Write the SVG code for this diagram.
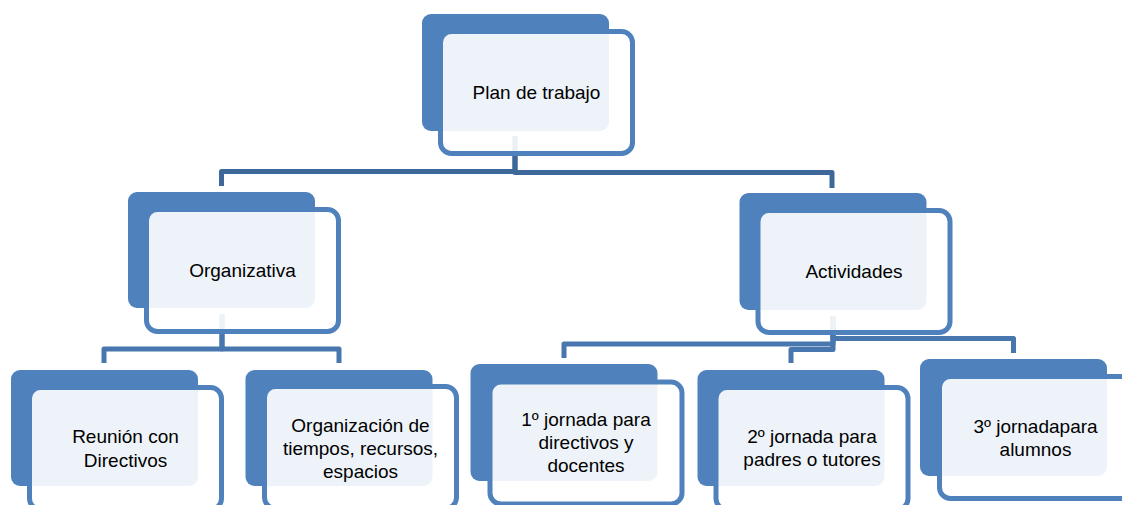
<svg xmlns="http://www.w3.org/2000/svg" width="1122" height="505" viewBox="0 0 1122 505">
<style>
.back{fill:#4F81BD;}
.front{fill:#FFFFFF;fill-opacity:0.9;stroke:#4F81BD;stroke-width:5;}
.c1{fill:none;stroke:#3E6899;stroke-width:5;stroke-linejoin:round;}
.c2{fill:none;stroke:#4877B0;stroke-width:5;stroke-linejoin:round;}
text{font-family:"Liberation Sans",Arial,sans-serif;font-size:19px;fill:#000;text-anchor:middle;}
</style>
<rect width="1122" height="505" fill="#FFFFFF"/>
<g id="connectors">
<path class="c1" d="M515 136 V171.5 H221.5 V186"/>
<path class="c1" d="M515 136 V172.5 H832 V188"/>
<path class="c2" d="M222 314 V349 H104 V363"/>
<path class="c2" d="M222 314 V349 H339 V363"/>
<path class="c2" d="M833 316 V344 H564 V358"/>
<path class="c2" d="M833 316 V349.5 H791 V363"/>
<path class="c2" d="M833 316 V338.5 H1013.5 V353"/>
</g>
<g id="node-plan">
<rect class="back" x="422" y="14" width="187" height="117" rx="9"/>
<rect class="front" x="440.5" y="31.5" width="192" height="122" rx="11"/>
<text x="536.5" y="99">Plan de trabajo</text>
</g>
<g id="node-organizativa">
<rect class="back" x="128" y="192" width="187" height="116" rx="9"/>
<rect class="front" x="146.5" y="209.5" width="192" height="122" rx="11"/>
<text x="242.5" y="277">Organizativa</text>
</g>
<g id="node-actividades">
<rect class="back" x="739.5" y="193" width="187" height="117" rx="9"/>
<rect class="front" x="758" y="210.5" width="192" height="122" rx="11"/>
<text x="854" y="278">Actividades</text>
</g>
<g id="node-reunion">
<rect class="back" x="11" y="370" width="187" height="116" rx="9"/>
<rect class="front" x="29.5" y="387.5" width="192" height="122" rx="11"/>
<text x="125.5" y="443">Reunión con</text>
<text x="125.5" y="467">Directivos</text>
</g>
<g id="node-organizacion">
<rect class="back" x="245.5" y="370" width="187" height="116" rx="9"/>
<rect class="front" x="264.5" y="386.5" width="192" height="122" rx="11"/>
<text x="360.5" y="432">Organización de</text>
<text x="360.5" y="455">tiempos, recursos,</text>
<text x="360.5" y="478">espacios</text>
</g>
<g id="node-jornada1">
<rect class="back" x="470.5" y="364" width="187" height="117" rx="9"/>
<rect class="front" x="490" y="382" width="192" height="122" rx="11"/>
<text x="586" y="426">1º jornada para</text>
<text x="586" y="449">directivos y</text>
<text x="586" y="472">docentes</text>
</g>
<g id="node-jornada2">
<rect class="back" x="697.5" y="370" width="187" height="116" rx="9"/>
<rect class="front" x="716" y="387.5" width="192" height="122" rx="11"/>
<text x="812" y="442.5">2º jornada para</text>
<text x="812" y="466">padres o tutores</text>
</g>
<g id="node-jornada3">
<rect class="back" x="920" y="359" width="187" height="117" rx="9"/>
<rect class="front" x="939.5" y="376.5" width="192" height="122" rx="11"/>
<text x="1035.5" y="432.5">3º jornadapara</text>
<text x="1035.5" y="455.5">alumnos</text>
</g>
</svg>
